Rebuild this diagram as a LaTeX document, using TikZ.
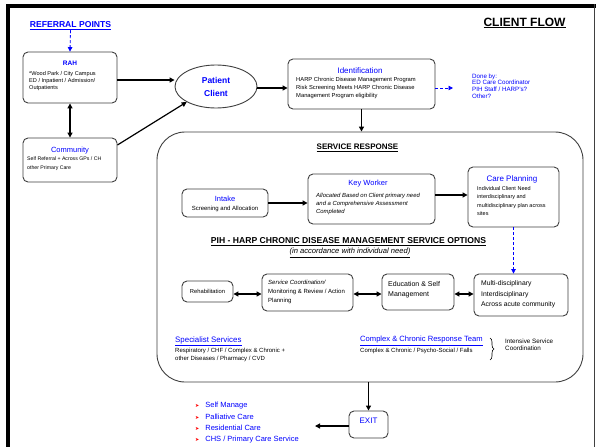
\documentclass[tikz,border=0pt]{standalone}
\usepackage{fontspec}
\setmainfont{Liberation Sans}
\newfontfamily\symfont{DejaVu Sans}
\usetikzlibrary{arrows.meta,shapes.geometric,decorations.pathreplacing}
\newcommand{\fs}[2]{\fontsize{#1}{#2}\selectfont}
\begin{document}
\begin{tikzpicture}[x=1pt,y=-1pt,
  box/.style={draw=black!75, line width=0.9, rounded corners=5, fill=white, inner sep=0},
  arr/.style={-{Triangle[length=5,width=5]}, line width=1.2},
  darr/.style={{Triangle[length=5,width=5]}-{Triangle[length=5,width=5]}, line width=1.2},
  dblue/.style={densely dashed, blue, line width=0.8, -{Triangle[length=4.5,width=4.5]}},
  ttl/.style={font=\fs{7.5}{8}, text=blue, inner sep=0},
  body/.style={font=\fs{5.2}{8}, inner sep=0, anchor=west, align=left},
  plain/.style={inner sep=0}]
\useasboundingbox (0,0) rectangle (596,447);
\fill[white] (0,0) rectangle (596,447);
% frame
\fill[black] (6,4) rectangle (596,7.5);
\fill[black] (6,4) rectangle (9.5,447);
\draw[line width=1.2, black!75] (594.5,4) -- (594.5,447);

% headings
\node[plain, font=\bfseries\fs{12}{14}] (cf) at (524.5,23) {\underline{CLIENT FLOW}};
\node[plain, font=\bfseries\fs{8.6}{10}, text=blue] (ref) at (70.5,26) {\underline{REFERRAL POINTS}};

% RAH
\node[box, minimum width=94, minimum height=51] (rah) at (70,77.5) {};
\node[ttl, font=\bfseries\fs{6.5}{8}] (rahT) at (70,63) {RAH};
\node[body, font=\fs{5.6}{7}] (rahB) at (29,81) {*Wood Park / City Campus\\ED / Inpatient / Admission/\\Outpatients};

% Community
\node[box, minimum width=94, minimum height=44] (com) at (70,160) {};
\node[ttl] (comT) at (70,151) {Community};
\node[body, font=\fs{5.2}{9}] (comB) at (27,163.5) {Self Referral + Across GPs / CH\\other Primary Care};

% Patient client
\node[draw=black!75, line width=0.9, ellipse, minimum width=82, minimum height=43, inner sep=0, align=center, text=blue, font=\bfseries\fs{8.5}{13}] (pc) at (216,86.5) {Patient\\Client};

% Identification
\node[box, minimum width=147, minimum height=50] (id) at (361.5,84) {};
\node[ttl, font=\fs{8}{8}] (idT) at (360,71) {Identification};
\node[body, font=\fs{5.8}{8}] (idB) at (296,88) {HARP Chronic Disease Management Program\\Risk Screening Meets HARP Chronic Disease\\Management Program eligibility};

% Done by
\node[body, font=\fs{6.2}{6.8}, text=blue] (done) at (472,86) {Done by:\\ED Care Coordinator\\PIH Staff / HARP's?\\Other?};

% arrows top
\draw[dblue] (ref.south) -- (rah.north);
\draw[darr] (rah.south) -- (com.north);
\draw[arr] (rah.east |- 0,80) -- (pc.west |- 0,80);
\draw[arr] ([yshift=15pt]com.east) -- (pc.south west);
\draw[arr] (pc.east |- 0,88) -- (id.west |- 0,88);
\coordinate (doneend) at (453,88);
\draw[dblue] (id.east |- 0,88) -- (doneend);

% Service response
\node[box, rounded corners=28, minimum width=426, minimum height=250] (sr) at (370,257) {};
\draw[arr] (id.south) -- (id.south |- sr.north);
\node[plain, font=\bfseries\fs{8}{8}] (srT) at (357.5,148) {\underline{SERVICE RESPONSE}};

% Intake
\node[box, minimum width=86, minimum height=28] (intake) at (225,203) {};
\node[ttl] (intakeT) at (225,198.5) {Intake};
\node[plain, font=\fs{6}{6}] (intakeB) at (225,209) {Screening and Allocation};

% Key worker
\node[box, minimum width=127, minimum height=50] (kw) at (371.5,199) {};
\node[ttl] (kwT) at (368,184) {Key Worker};
\node[body, font=\itshape\fs{5.9}{8}] (kwB) at (316,204) {Allocated Based on Client primary need\\and a Comprehensive Assessment\\Completed};

% Care planning
\node[box, minimum width=91, minimum height=60] (cp) at (513.5,197) {};
\node[ttl, font=\fs{8}{8}] (cpT) at (512,179) {Care Planning};
\node[body, font=\fs{5.5}{8.6}] (cpB) at (477,201) {Individual Client Need\\interdisciplinary and\\multidisciplinary plan across\\sites};

\draw[arr] (intake.east) -- (intake.east -| kw.west);
\draw[arr] ([yshift=4pt]kw.east) -- ([yshift=4pt]kw.east -| cp.west);

% PIH options
\node[plain, font=\bfseries\fs{8.6}{9}] (pih) at (348.5,242) {\underline{PIH - HARP CHRONIC DISEASE MANAGEMENT SERVICE OPTIONS}};
\node[plain, font=\itshape\fs{7.6}{8}] (acc) at (350,253) {\underline{(in accordance with individual need)}};

\node[box, minimum width=51, minimum height=21, font=\fs{5.8}{6}] (rehab) at (207.5,291.5) {Rehabilitation};
\node[box, minimum width=91, minimum height=37] (sc) at (307.5,292.5) {};
\node[body, font=\fs{6}{9}] (scB) at (268,292) {\textit{Service Coordination/}\\Monitoring \& Review / Action\\Planning};
\node[box, minimum width=72, minimum height=36] (edu) at (418,292) {};
\node[body, font=\fs{7}{10}] (eduB) at (388,290) {Education \& Self\\Management};
\node[box, minimum width=94, minimum height=42] (multi) at (521,295) {};
\node[body, font=\fs{6.8}{10.5}] (multiB) at (481,294.5) {Multi-disciplinary\\Interdisciplinary\\Across acute community};

\draw[dblue] (cp.south) -- (cp.south |- multi.north);
\draw[darr] ([yshift=-2.5pt]rehab.east) -- ([yshift=-2.5pt]rehab.east -| sc.west);
\draw[darr] ([yshift=-1.5pt]sc.east) -- ([yshift=-1.5pt]sc.east -| edu.west);
\draw[darr] ([yshift=-2pt]edu.east) -- ([yshift=-2pt]edu.east -| multi.west);

% specialist / complex
\node[plain, anchor=west, font=\fs{7.9}{8}, text=blue] (spT) at (175,341) {\underline{Specialist Services}};
\node[body, font=\fs{6}{8}] (spB) at (175,355) {Respiratory / CHF / Complex \& Chronic +\\other Diseases / Pharmacy / CVD};
\node[plain, anchor=west, font=\fs{7.6}{8}, text=blue] (ccT) at (360,341) {\underline{Complex \& Chronic Response Team}};
\node[body, font=\fs{6}{8}] (ccB) at (360,351) {Complex \& Chronic / Psycho-Social / Falls};
\draw[line width=0.6, decorate, decoration={brace, amplitude=4}] (490,338) -- (490,360);
\node[body, font=\fs{6.3}{7}] (intB) at (505,344.5) {Intensive Service\\Coordination};

% exit
\node[box, minimum width=39, minimum height=27] (exit) at (368.5,424.5) {};
\node[ttl, font=\fs{8}{8}] (exitT) at (368.5,421) {EXIT};
\draw[arr] (exit.north |- sr.south) -- (exit.north);
\coordinate (exitend) at (315,426);
\draw[arr] ([yshift=-1.5pt]exit.west) -- (exitend);

\node[body, font=\fs{7.5}{11.3}, text=blue] (list) at (195,423) {%
{\color{red}\symfont\fs{5}{5}➤}\hspace{6pt}Self Manage\\
{\color{red}\symfont\fs{5}{5}➤}\hspace{6pt}Palliative Care\\
{\color{red}\symfont\fs{5}{5}➤}\hspace{6pt}Residential Care\\
{\color{red}\symfont\fs{5}{5}➤}\hspace{6pt}CHS / Primary Care Service};
\end{tikzpicture}
\end{document}
